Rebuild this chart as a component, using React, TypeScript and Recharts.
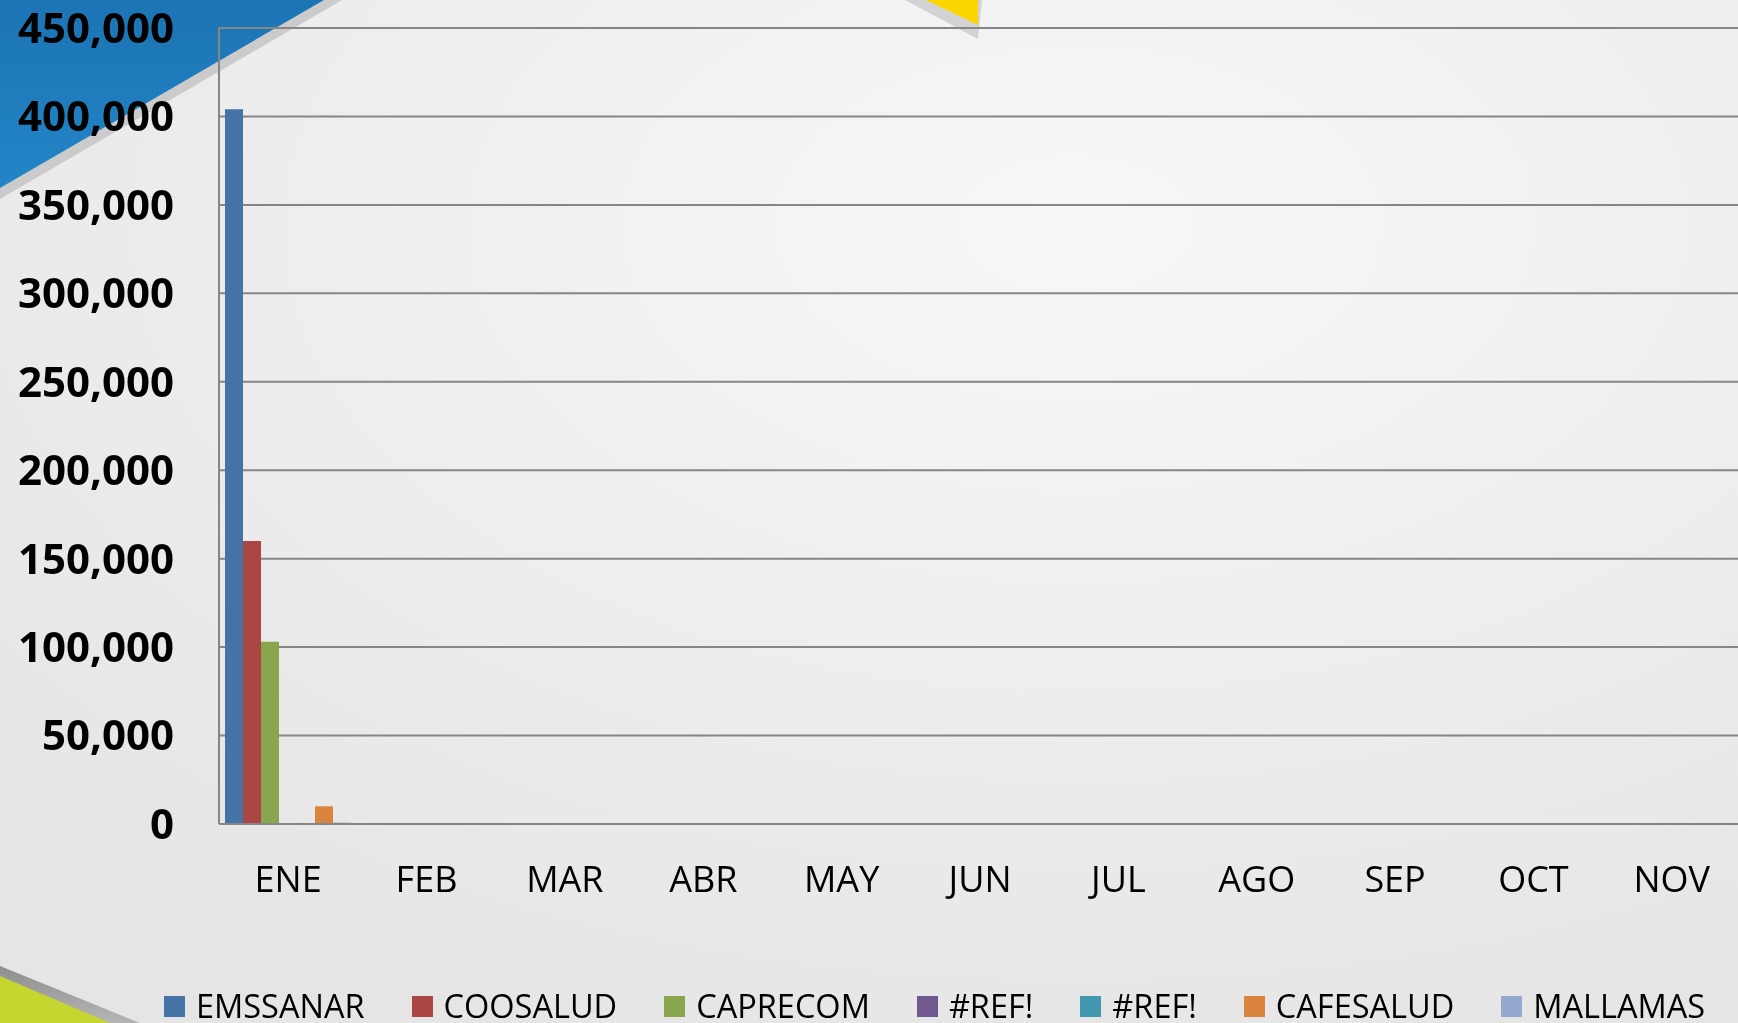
import { BarChart, Bar, XAxis, YAxis, CartesianGrid } from 'recharts'

const MONTHS = ['ENE', 'FEB', 'MAR', 'ABR', 'MAY', 'JUN', 'JUL', 'AGO', 'SEP', 'OCT', 'NOV']

const EMSSANAR = [404000, 0, 0, 0, 0, 0, 0, 0, 0, 0, 0]
const COOSALUD = [160000, 0, 0, 0, 0, 0, 0, 0, 0, 0, 0]
const CAPRECOM = [103000, 0, 0, 0, 0, 0, 0, 0, 0, 0, 0]
const REF_A = [0, 0, 0, 0, 0, 0, 0, 0, 0, 0, 0]
const REF_B = [0, 0, 0, 0, 0, 0, 0, 0, 0, 0, 0]
const CAFESALUD = [10000, 0, 0, 0, 0, 0, 0, 0, 0, 0, 0]
const MALLAMAS = [800, 0, 0, 0, 0, 0, 0, 0, 0, 0, 0]

const Y_TICKS = [0, 50000, 100000, 150000, 200000, 250000, 300000, 350000, 400000, 450000]

const SERIES = [
  { key: 'emssanar', name: 'EMSSANAR', values: EMSSANAR, color: '#4572a7' },
  { key: 'coosalud', name: 'COOSALUD', values: COOSALUD, color: '#aa4643' },
  { key: 'caprecom', name: 'CAPRECOM', values: CAPRECOM, color: '#89a54e' },
  { key: 'refA', name: '#REF!', values: REF_A, color: '#71588f' },
  { key: 'refB', name: '#REF!', values: REF_B, color: '#4198af' },
  { key: 'cafesalud', name: 'CAFESALUD', values: CAFESALUD, color: '#db843d' },
  { key: 'mallamas', name: 'MALLAMAS', values: MALLAMAS, color: '#93a9cf' },
]

const data = MONTHS.map((m, i) => {
  const row: Record<string, string | number> = { month: m }
  SERIES.forEach((s) => (row[s.key] = s.values[i]))
  return row
})

const FONT = "'Open Sans', sans-serif"
const fmt = (v: number) => v.toLocaleString('en-US')

function Decorations() {
  return (
    <svg width={1738} height={1023} style={{ position: 'absolute', left: 0, top: 0 }}>
      <defs>
        <radialGradient id="bg" cx="62%" cy="22%" r="85%">
          <stop offset="0%" stopColor="#f7f7f7" />
          <stop offset="100%" stopColor="#e5e5e5" />
        </radialGradient>
        <linearGradient id="blue" x1="0" y1="0" x2="0" y2="1">
          <stop offset="0%" stopColor="#1c74b4" />
          <stop offset="100%" stopColor="#2285c6" />
        </linearGradient>
        <linearGradient id="shade" x1="0" y1="0" x2="0" y2="1">
          <stop offset="0%" stopColor="#8e8e8e" />
          <stop offset="100%" stopColor="#b5b5b5" />
        </linearGradient>
      </defs>
      <rect width={1738} height={1023} fill="url(#bg)" />
      <polygon points="0,0 342,0 0,199" fill="#cbcbcb" />
      <polygon points="0,0 324,0 0,188" fill="url(#blue)" />
      <polygon points="905,0 982,0 978,39" fill="#d3d3d3" />
      <polygon points="926,0 978,0 978,25" fill="#fdd600" />
      <polygon points="0,966 140,1023 0,1023" fill="url(#shade)" />
      <polygon points="0,976 110,1023 0,1023" fill="#c4d62f" />
    </svg>
  )
}

export default function App() {
  return (
    <div
      style={{
        position: 'fixed',
        left: 0,
        top: 0,
        width: 1738,
        height: 1023,
        overflow: 'hidden',
      }}
    >
      <Decorations />
      <div style={{ position: 'absolute', left: 0, top: 0 }}>
        <BarChart
          width={1741}
          height={1023}
          data={data}
          margin={{ top: 28, right: 0, bottom: 0, left: 0 }}
          barCategoryGap={6}
          barGap={0}
        >
          <CartesianGrid vertical={false} stroke="#868686" strokeWidth={2} />
          <XAxis
            dataKey="month"
            height={199}
            tickLine={false}
            tickSize={0}
            tickMargin={42}
            axisLine={{ stroke: '#868686', strokeWidth: 2 }}
            tick={{ fill: '#000', fontSize: 36, fontFamily: FONT }}
            interval={0}
          />
          <YAxis
            width={219}
            domain={[0, 450000]}
            ticks={Y_TICKS}
            tickFormatter={fmt}
            tickLine={false}
            tickSize={0}
            tickMargin={45}
            axisLine={{ stroke: '#868686', strokeWidth: 2 }}
            tick={{ fill: '#000', fontSize: 42, fontWeight: 700, fontFamily: FONT }}
          />
          {SERIES.map((s) => (
            <Bar key={s.key} dataKey={s.key} name={s.name} fill={s.color} isAnimationActive={false} />
          ))}
        </BarChart>
      </div>
      <div
        style={{
          position: 'absolute',
          left: 164,
          top: 988,
          height: 36,
          display: 'flex',
          alignItems: 'center',
          fontFamily: FONT,
          fontSize: 32.5,
          lineHeight: '36px',
          color: '#000',
          whiteSpace: 'nowrap',
        }}
      >
        {SERIES.map((s) => (
          <div key={s.key} style={{ display: 'flex', alignItems: 'center', marginRight: 47 }}>
            <span style={{ width: 21, height: 21, background: s.color, marginRight: 11, display: 'inline-block' }} />
            <span>{s.name}</span>
          </div>
        ))}
      </div>
    </div>
  )
}
